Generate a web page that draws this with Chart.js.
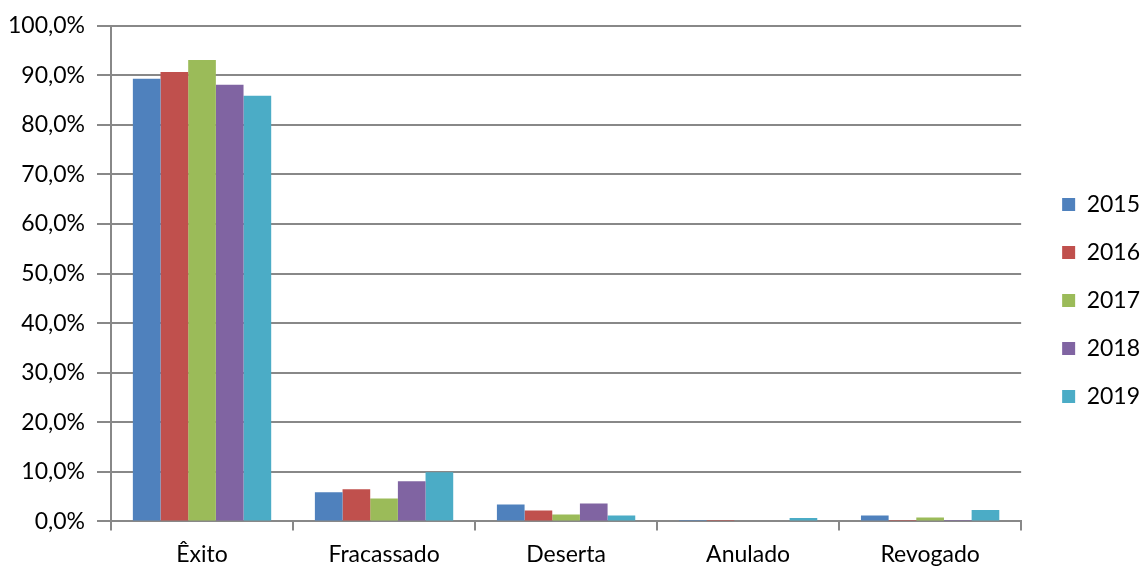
<!DOCTYPE html>
<html>
<head>
<meta charset="utf-8">
<script src="https://cdn.jsdelivr.net/npm/chart.js@4"></script>
<style>
  body { margin: 0; background: #fff; }
  #wrap { width: 1140px; height: 569px; }
</style>
</head>
<body>
<div id="wrap"><canvas id="chart"></canvas></div>
<script>
// categories and values (percent)
const categories = ['Êxito', 'Fracassado', 'Deserta', 'Anulado', 'Revogado'];
const years = ['2015', '2016', '2017', '2018', '2019'];
const v2015 = [89.3, 5.9, 3.4, 0.1, 1.2];
const v2016 = [90.7, 6.5, 2.2, 0.1, 0.3];
const v2017 = [93.1, 4.6, 1.4, 0.0, 0.8];
const v2018 = [88.1, 8.1, 3.6, 0.0, 0.3];
const v2019 = [85.9, 9.9, 1.2, 0.7, 2.3];
const colors = ['#4F81BD', '#C0504D', '#9BBB59', '#8064A2', '#4BACC6'];

const series = [v2015, v2016, v2017, v2018, v2019];
const fontFamily = 'Lato, Open Sans, sans-serif';

const ctx = document.getElementById('chart').getContext('2d');
const chart = new Chart(ctx, {
    type: 'bar',
    data: {
        labels: categories,
        datasets: series.map((data, i) => ({
            label: years[i],
            data: data,
            backgroundColor: colors[i],
            borderWidth: 0,
            categoryPercentage: 0.76,
            barPercentage: 1.0
        }))
    },
    options: {
        responsive: true,
        maintainAspectRatio: false,
        animation: false,
        layout: { padding: { top: 23, right: -10, left: -4, bottom: -9 } },
        plugins: {
            tooltip: { enabled: false },
            legend: {
                position: 'right',
                labels: {
                    boxWidth: 13,
                    boxHeight: 13,
                    padding: 25,
                    color: '#000',
                    font: { family: fontFamily, size: 23 }
                }
            }
        },
        scales: {
            x: {
                grid: {
                    offset: true,
                    drawOnChartArea: false,
                    drawTicks: true,
                    tickLength: 9,
                    color: '#888',
                    lineWidth: 2
                },
                border: { color: '#888', width: 2 },
                ticks: {
                    color: '#000',
                    padding: 10,
                    font: { family: fontFamily, size: 23 }
                }
            },
            y: {
                min: 0,
                max: 100,
                grid: {
                    color: '#888',
                    lineWidth: 2,
                    tickLength: 14
                },
                border: { color: '#888', width: 2 },
                ticks: {
                    stepSize: 10,
                    color: '#000',
                    padding: 12,
                    font: { family: fontFamily, size: 23 },
                    callback: v => v.toFixed(1).replace('.', ',') + '%'
                }
            },
            // empty spacer between the plot and the legend
            gap: {
                position: 'right',
                display: true,
                grid: { display: false },
                border: { display: false },
                ticks: { display: false },
                afterFit: scale => { scale.width = 16; }
            }
        }
    }
});
</script>
</body>
</html>
